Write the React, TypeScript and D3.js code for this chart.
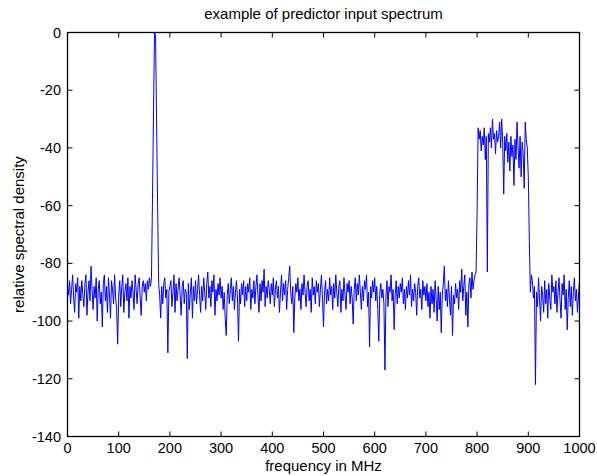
import React from 'react';
import * as d3 from 'd3';

const stepMHz = 2;
const spectrum: number[] = [
  -88, -91, -86, -94, -89, -84, -92, -97, -87, -90, -85, -99, -88, -93, -86, -91, -95, -87, -84, -98, -90, -86, -93, -81, -89,
  -96, -88, -92, -85, -100, -89, -86, -94, -90, -102, -87, -84, -93, -88, -97, -85, -91, -99, -86, -89, -94, -84, -92, -96, -108,
  -91, -86, -95, -88, -84, -97, -90, -87, -93, -85, -99, -88, -92, -86, -90, -96, -84, -89, -94, -87, -85, -92, -98, -88, -86,
  -90, -87, -93, -86, -89, -85, -88, -85, -58, -27, 0, -1, -31, -60, -87, -91, -99, -88, -94, -87, -85, -92, -89, -111, -90,
  -88, -86, -95, -90, -84, -97, -87, -93, -89, -85, -91, -98, -88, -86, -94, -89, -90, -113, -87, -96, -90, -85, -99, -88, -93,
  -86, -94, -89, -84, -91, -97, -88, -93, -85, -90, -96, -87, -83, -92, -88, -95, -86, -90, -84, -98, -89, -93, -87, -91, -85,
  -92, -88, -96, -90, -99, -105, -91, -87, -94, -89, -85, -93, -88, -96, -90, -86, -92, -107, -89, -94, -87, -91, -86, -95, -88,
  -93, -87, -90, -85, -96, -89, -92, -86, -94, -88, -84, -91, -97, -87, -93, -86, -90, -82, -95, -88, -92, -86, -89, -94, -87,
  -91, -85, -95, -89, -86, -92, -88, -97, -90, -84, -93, -87, -91, -86, -96, -89, -85, -81, -90, -94, -88, -104, -92, -87, -90,
  -85, -93, -89, -96, -87, -91, -84, -90, -95, -88, -86, -93, -89, -97, -85, -91, -88, -94, -86, -90, -87, -95, -89, -84, -92,
  -102, -90, -86, -94, -89, -93, -85, -91, -88, -96, -87, -92, -84, -90, -95, -88, -86, -97, -89, -93, -85, -91, -96, -87, -90,
  -86, -94, -88, -92, -101, -89, -85, -93, -87, -91, -84, -90, -96, -88, -93, -86, -89, -84, -95, -90, -109, -88, -92, -86, -90,
  -85, -93, -88, -96, -107, -90, -87, -92, -89, -94, -117, -91, -86, -95, -88, -90, -84, -93, -89, -103, -91, -86, -94, -88, -92,
  -87, -90, -85, -94, -89, -96, -88, -92, -86, -91, -84, -95, -89, -93, -87, -90, -98, -88, -85, -92, -89, -96, -86, -91, -88,
  -93, -87, -95, -90, -99, -88, -94, -89, -97, -86, -92, -100, -88, -96, -90, -104, -91, -87, -81, -93, -89, -95, -86, -92, -98,
  -88, -105, -91, -94, -87, -92, -89, -96, -86, -90, -82, -93, -88, -84, -98, -90, -102, -87, -85, -92, -83, -89, -86, -84, -83,
  -62, -33, -37, -34, -41, -36, -39, -33, -44, -36, -83, -35, -38, -33, -40, -30, -37, -35, -42, -34, -38, -36, -31, -40, -30,
  -38, -56, -36, -41, -35, -45, -38, -48, -36, -43, -39, -53, -37, -44, -31, -40, -47, -36, -50, -38, -42, -54, -31, -37, -40,
  -50, -72, -90, -84, -86, -92, -88, -122, -90, -95, -85, -93, -100, -88, -91, -97, -86, -94, -89, -99, -87, -92, -96, -84, -90,
  -88, -94, -86, -97, -90, -85, -93, -99, -87, -91, -84, -96, -89, -103, -92, -86, -95, -88, -98, -90, -85, -93, -89, -97, -91,
  -86,
];

const xTicks = [0, 100, 200, 300, 400, 500, 600, 700, 800, 900, 1000];
const yTicks = [0, -20, -40, -60, -80, -100, -120, -140];

const title = 'example of predictor input spectrum';
const xTitle = 'frequency in MHz';
const yTitle = 'relative spectral density';

const W = 597;
const H = 476;
const left = 67.5;
const right = 579.5;
const top = 32.5;
const bottom = 436.5;
const font = 'Arial, "Liberation Sans", Helvetica, sans-serif';

export default function App() {
  const x = d3.scaleLinear().domain([0, 1000]).range([left, right]);
  const y = d3.scaleLinear().domain([-140, 0]).range([bottom, top]);

  const line = d3
    .line<number>()
    .x((_, i) => x(i * stepMHz))
    .y(d => y(d));

  const tick = 5;

  return (
    <svg width={W} height={H} style={{ position: 'absolute', left: 0, top: 0, background: '#fff' }}>
      <rect x={0} y={0} width={W} height={H} fill="#fff" />
      <path d={line(spectrum) || ''} fill="none" stroke="#0000ff" strokeWidth={1} strokeLinejoin="round" />

      <rect x={left} y={top} width={right - left} height={bottom - top} fill="none" stroke="#000" strokeWidth={1.3} />

      {xTicks.map(t => (
        <g key={'x' + t}>
          <line x1={x(t)} x2={x(t)} y1={bottom} y2={bottom - tick} stroke="#000" />
          <line x1={x(t)} x2={x(t)} y1={top} y2={top + tick} stroke="#000" />
          <text x={x(t)} y={453} textAnchor="middle" fontFamily={font} fontSize={14.5}>
            {t}
          </text>
        </g>
      ))}

      {yTicks.map(t => (
        <g key={'y' + t}>
          <line x1={left} x2={left + tick} y1={y(t)} y2={y(t)} stroke="#000" />
          <line x1={right} x2={right - tick} y1={y(t)} y2={y(t)} stroke="#000" />
          <text x={61} y={y(t) + 5} textAnchor="end" fontFamily={font} fontSize={14.5}>
            {t}
          </text>
        </g>
      ))}

      <text x={(left + right) / 2} y={19} textAnchor="middle" fontFamily={font} fontSize={15}>
        {title}
      </text>
      <text x={(left + right) / 2} y={471} textAnchor="middle" fontFamily={font} fontSize={15}>
        {xTitle}
      </text>
      <text
        transform={`translate(24, ${(top + bottom) / 2}) rotate(-90)`}
        textAnchor="middle"
        fontFamily={font}
        fontSize={15}
      >
        {yTitle}
      </text>
    </svg>
  );
}
